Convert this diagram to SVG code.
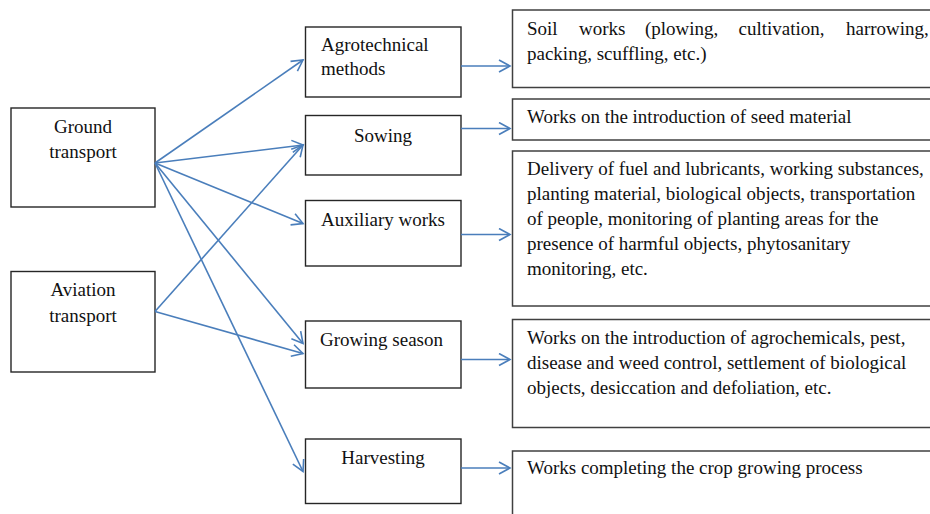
<svg xmlns="http://www.w3.org/2000/svg" width="930" height="514" viewBox="0 0 930 514">
<style>
.box{fill:#fff;stroke:#262626;stroke-width:1.4}
.rbox{fill:#fff;stroke:#404040;stroke-width:1.5}
.t{font-family:"Liberation Serif","Times New Roman",serif;font-size:19px;fill:#111}
.c{text-anchor:middle}
.ln{fill:none;stroke:#4A7EBB;stroke-width:1.6}
</style>
<defs>
<marker id="ah" markerUnits="userSpaceOnUse" markerWidth="16" markerHeight="16" refX="12" refY="7" orient="auto">
<path d="M1,1 L12,7 L1,13" fill="none" stroke="#4A7EBB" stroke-width="1.6"/>
</marker>
</defs>
<rect width="930" height="514" fill="#fff"/>
<g id="ground"><rect class="box" x="11" y="108" width="144" height="99"/>
<text class="t c" x="83" y="133">Ground</text><text class="t c" x="83" y="158">transport</text></g>
<g id="aviation"><rect class="box" x="11" y="271.5" width="144" height="100.5"/>
<text class="t c" x="83" y="296">Aviation</text><text class="t c" x="83" y="322">transport</text></g>
<g id="agro"><rect class="box" x="305.5" y="27" width="155.5" height="70"/>
<text class="t" x="321" y="51">Agrotechnical</text><text class="t" x="321" y="75">methods</text></g>
<g id="sowing"><rect class="box" x="305.5" y="115.5" width="155.5" height="59.5"/>
<text class="t c" x="383" y="142">Sowing</text></g>
<g id="aux"><rect class="box" x="305.5" y="200.5" width="155.5" height="65.5"/>
<text class="t" x="321" y="226">Auxiliary works</text></g>
<g id="growing"><rect class="box" x="305.5" y="321" width="155.5" height="67"/>
<text class="t" x="320" y="346">Growing season</text></g>
<g id="harvest"><rect class="box" x="305.5" y="439" width="155.5" height="64.5"/>
<text class="t c" x="383" y="464">Harvesting</text></g>
<g id="soil"><rect class="rbox" x="512.5" y="10" width="430" height="77.5"/>
<text class="t" y="35"><tspan x="527">Soil</tspan><tspan x="579">works</tspan><tspan x="645">(plowing,</tspan><tspan x="738.5">cultivation,</tspan><tspan x="846">harrowing,</tspan></text>
<text class="t" x="527" y="60">packing, scuffling, etc.)</text></g>
<g id="seed"><rect class="rbox" x="512.5" y="99" width="430" height="41"/>
<text class="t" x="527" y="123">Works on the introduction of seed material</text></g>
<g id="delivery"><rect class="rbox" x="512.5" y="151" width="430" height="155"/>
<text class="t" x="527" y="174.5">Delivery of fuel and lubricants, working substances,</text>
<text class="t" x="527" y="199.5">planting material, biological objects, transportation</text>
<text class="t" x="527" y="224.5">of people, monitoring of planting areas for the</text>
<text class="t" x="527" y="249.5">presence of harmful objects, phytosanitary</text>
<text class="t" x="527" y="274.5">monitoring, etc.</text></g>
<g id="agrochem"><rect class="rbox" x="512.5" y="319.5" width="430" height="108"/>
<text class="t" x="527" y="343.5">Works on the introduction of agrochemicals, pest,</text>
<text class="t" x="527" y="368.5">disease and weed control, settlement of biological</text>
<text class="t" x="527" y="393.5">objects, desiccation and defoliation, etc.</text></g>
<g id="complete"><rect class="rbox" x="512.5" y="451" width="430" height="80"/>
<text class="t" x="527" y="474">Works completing the crop growing process</text></g>
<g id="connectors">
<line class="ln" x1="155" y1="163" x2="303" y2="60" marker-end="url(#ah)"/>
<line class="ln" x1="155" y1="163" x2="303" y2="145" marker-end="url(#ah)"/>
<line class="ln" x1="155" y1="163" x2="303" y2="223.5" marker-end="url(#ah)"/>
<line class="ln" x1="155" y1="163" x2="303" y2="343.5" marker-end="url(#ah)"/>
<line class="ln" x1="155" y1="163" x2="303" y2="471.5" marker-end="url(#ah)"/>
<line class="ln" x1="155" y1="311.5" x2="303" y2="145" marker-end="url(#ah)"/>
<line class="ln" x1="155" y1="311.5" x2="303" y2="353.5" marker-end="url(#ah)"/>
<line class="ln" x1="461" y1="66" x2="510" y2="66" marker-end="url(#ah)"/>
<line class="ln" x1="461" y1="128.5" x2="510" y2="128.5" marker-end="url(#ah)"/>
<line class="ln" x1="461" y1="234.5" x2="510" y2="234.5" marker-end="url(#ah)"/>
<line class="ln" x1="461" y1="359.5" x2="510" y2="359.5" marker-end="url(#ah)"/>
<line class="ln" x1="461" y1="468" x2="510" y2="468" marker-end="url(#ah)"/>
</g>
</svg>
